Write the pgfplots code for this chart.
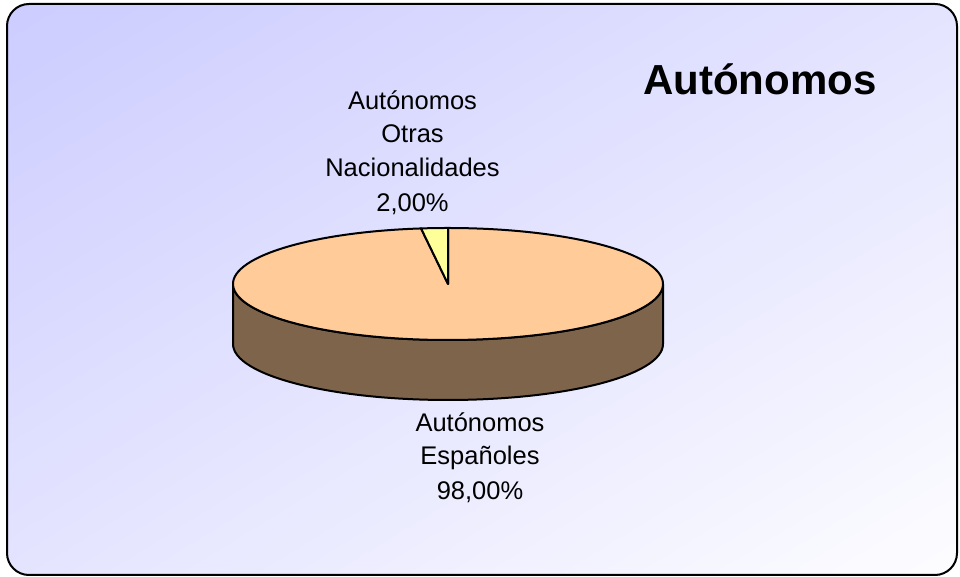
\documentclass[border=0pt]{standalone}
\usepackage{pgfplots}
\pgfplotsset{compat=1.18}
\usepackage{pgfplotstable}
\usetikzlibrary{shadings}
\usepackage{fontspec}
\setmainfont{Liberation Sans}
\definecolor{bgA}{RGB}{204,204,255}
\definecolor{bgB}{RGB}{228,228,255}
\definecolor{bgC}{RGB}{253,253,255}
\definecolor{peach}{RGB}{255,204,153}
\definecolor{pieyellow}{RGB}{255,255,153}
\definecolor{sidebrown}{RGB}{126,100,75}
\pgfplotstableread{
label value
Espanoles 98
Otras 2
}\datatable
\begin{document}
\begin{tikzpicture}
\pgfplotstablegetelem{1}{value}\of\datatable
\let\vB\pgfplotsretval
\pgfmathsetmacro{\angB}{90+3.6*\vB}
\pgfmathsetmacro{\px}{448+215*cos(\angB)}
\pgfmathsetmacro{\py}{293+56*sin(\angB)}
\begin{axis}[x=1pt,y=1pt,xmin=0,xmax=960,ymin=0,ymax=577,hide axis,clip=false]
\fill[white] (0,0) rectangle (960,577);
\shade[upper left=bgA, upper right=bgB, lower left=bgB, lower right=bgC, rounded corners=22pt] (7,2) rectangle (957,573);
\draw[line width=2pt, rounded corners=22pt] (7,2) rectangle (957,573);
% side
\filldraw[fill=sidebrown, line width=2pt, line join=round] (233,293) arc[start angle=180,end angle=360,x radius=215pt,y radius=56pt] -- (663,233) arc[start angle=360,end angle=180,x radius=215pt,y radius=56pt] -- cycle;
% top slices
\filldraw[fill=peach, line width=2pt, line join=round] (448,293) -- (\px,\py) arc[start angle=\angB,end angle=450,x radius=215pt,y radius=56pt] -- cycle;
\filldraw[fill=pieyellow, line width=2pt, line join=round] (448,293) -- (448,349) arc[start angle=90,end angle=\angB,x radius=215pt,y radius=56pt] -- cycle;
% title
\node[anchor=base, inner sep=0pt, font=\fontsize{42}{50}\selectfont\bfseries] at (760,482) {Autónomos};
% labels
\begin{scope}[every node/.style={anchor=base, inner sep=0pt, font=\fontsize{25.5}{34}\selectfont}]
\node at (412.5,467) {Autónomos};
\node at (412.5,434) {Otras};
\node at (412.5,400) {Nacionalidades};
\node at (412.5,365) {2,00\%};
\node at (480,145) {Autónomos};
\node at (480,112) {Españoles};
\node at (480,77) {98,00\%};
\end{scope}
\end{axis}
\end{tikzpicture}
\end{document}
